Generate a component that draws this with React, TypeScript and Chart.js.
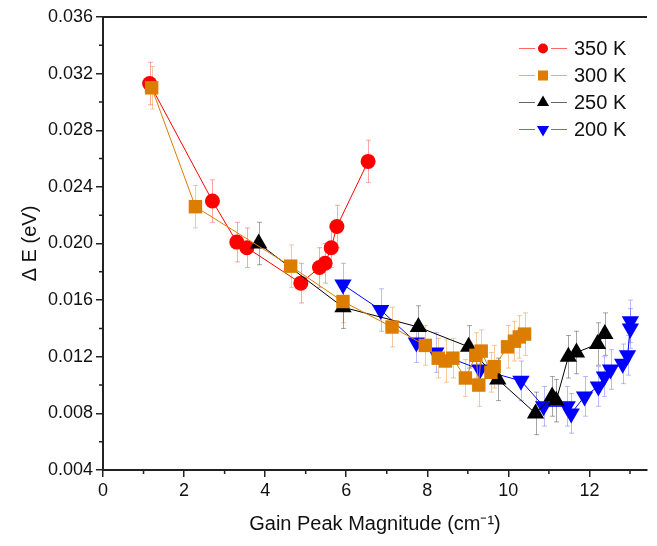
import React, { useEffect, useRef } from 'react';
import { Chart, registerables } from 'chart.js';

Chart.register(...registerables);

// ---- data ----
const xTicks = [0, 2, 4, 6, 8, 10, 12];
const yTicks = [0.004, 0.008, 0.012, 0.016, 0.020, 0.024, 0.028, 0.032, 0.036];

const x350 = [1.15, 2.70, 3.30, 3.55, 4.88, 5.34, 5.48, 5.63, 5.77, 6.54];
const y350 = [0.0313, 0.0230, 0.0201, 0.0197, 0.0172, 0.0183, 0.0186, 0.0197, 0.0212, 0.0258];
const e350 = [0.0015, 0.0015, 0.0014, 0.0014, 0.0014, 0.0014, 0.0014, 0.0014, 0.0015, 0.0015];

const x300 = [1.20, 2.28, 4.63, 5.92, 7.13, 7.95, 8.27, 8.45, 8.63, 8.94, 9.20, 9.27, 9.33, 9.57, 9.65, 9.98, 10.15, 10.27, 10.40];
const y300 = [0.0310, 0.0226, 0.0184, 0.0159, 0.0141, 0.0128, 0.0119, 0.0117, 0.0119, 0.0105, 0.0121, 0.0100, 0.0124, 0.0109, 0.0113, 0.0127, 0.0131, 0.0134, 0.0136];
const e300 = [0.0015, 0.0015, 0.0015, 0.0015, 0.0014, 0.0014, 0.0014, 0.0015, 0.0014, 0.0013, 0.0016, 0.0015, 0.0015, 0.0014, 0.0015, 0.0015, 0.0014, 0.0015, 0.0015];

const x250 = [3.84, 5.92, 7.78, 9.02, 9.74, 10.67, 11.08, 11.18, 11.48, 11.68, 12.20, 12.38];
const y250 = [0.0200, 0.0155, 0.0141, 0.0127, 0.0104, 0.0080, 0.0092, 0.0089, 0.0120, 0.0123, 0.0129, 0.0136];
const e250 = [0.0015, 0.0015, 0.0015, 0.0015, 0.0015, 0.0015, 0.0014, 0.0015, 0.0015, 0.0015, 0.0015, 0.0015];

const x200 = [5.92, 6.85, 7.73, 8.21, 9.30, 10.31, 10.87, 11.45, 11.55, 11.88, 12.22, 12.37, 12.52, 12.82, 12.94, 13.01, 13.01];
const y200 = [0.0171, 0.0153, 0.0130, 0.0123, 0.0111, 0.0103, 0.0085, 0.0085, 0.0080, 0.0092, 0.0099, 0.0106, 0.0111, 0.0115, 0.0121, 0.0140, 0.0145];
const e200 = [0.0015, 0.0015, 0.0014, 0.0014, 0.0014, 0.0014, 0.0014, 0.0014, 0.0014, 0.0014, 0.0014, 0.0014, 0.0014, 0.0014, 0.0014, 0.0014, 0.0015];

const seriesLabels = ['350 K', '300 K', '250 K', '200 K'];

const FONT = "'Liberation Sans', Arial, sans-serif";

type Series = {
  label: string; xs: number[]; ys: number[]; es: number[];
  color: string; errColor: string; style: string; radius: number; rotation: number; order: number;
};

const series: Series[] = [
  { label: seriesLabels[0], xs: x350, ys: y350, es: e350, color: '#FF0000', errColor: 'rgba(255,60,60,0.45)', style: 'circle', radius: 7.5, rotation: 0, order: 3 },
  { label: seriesLabels[1], xs: x300, ys: y300, es: e300, color: '#DC7D00', errColor: 'rgba(230,140,30,0.45)', style: 'rect', radius: 9.5, rotation: 0, order: 0 },
  { label: seriesLabels[2], xs: x250, ys: y250, es: e250, color: '#000000', errColor: 'rgba(0,0,0,0.35)', style: 'triangle', radius: 10, rotation: 0, order: 1 },
  { label: seriesLabels[3], xs: x200, ys: y200, es: e200, color: '#0000FF', errColor: 'rgba(60,60,255,0.35)', style: 'triangle', radius: 10, rotation: 180, order: 2 },
];

const errorBarPlugin = {
  id: 'errorBars',
  beforeDatasetsDraw(chart: any) {
    const ctx = chart.ctx;
    const yScale = chart.scales.y;
    const xScale = chart.scales.x;
    ctx.save();
    series.forEach((s) => {
      ctx.strokeStyle = s.errColor;
      ctx.lineWidth = 1;
      s.xs.forEach((xv, i) => {
        const px = Math.round(xScale.getPixelForValue(xv)) + 0.5;
        const top = yScale.getPixelForValue(s.ys[i] + s.es[i]);
        const bot = yScale.getPixelForValue(s.ys[i] - s.es[i]);
        ctx.beginPath();
        ctx.moveTo(px, top); ctx.lineTo(px, bot);
        ctx.moveTo(px - 2.5, top); ctx.lineTo(px + 2.5, top);
        ctx.moveTo(px - 2.5, bot); ctx.lineTo(px + 2.5, bot);
        ctx.stroke();
      });
    });
    ctx.restore();
  },
};

function drawMarker(ctx: CanvasRenderingContext2D, style: string, rot: number, x: number, y: number, r: number) {
  ctx.beginPath();
  if (style === 'circle') {
    ctx.arc(x, y, r, 0, Math.PI * 2);
  } else if (style === 'rect') {
    ctx.rect(x - r, y - r, 2 * r, 2 * r);
  } else {
    const dir = rot === 180 ? 1 : -1;
    ctx.moveTo(x, y + dir * r);
    ctx.lineTo(x - r * 0.87, y - dir * r * 0.5);
    ctx.lineTo(x + r * 0.87, y - dir * r * 0.5);
    ctx.closePath();
  }
  ctx.fill();
}

const framePlugin = {
  id: 'frameAndLegend',
  afterDraw(chart: any) {
    const ctx = chart.ctx;
    const { left, right, top, bottom } = chart.chartArea;
    const xScale = chart.scales.x;
    const yScale = chart.scales.y;
    ctx.save();
    ctx.strokeStyle = '#222';
    ctx.lineWidth = 2;
    // top frame line
    ctx.beginPath();
    ctx.moveTo(left - 1, top);
    ctx.lineTo(right, top);
    ctx.stroke();
    // minor ticks
    ctx.lineWidth = 1.5;
    ctx.beginPath();
    for (let v = 1; v <= 13; v += 2) {
      const px = xScale.getPixelForValue(v);
      ctx.moveTo(px, bottom);
      ctx.lineTo(px, bottom + 4);
    }
    for (let i = 0; i < yTicks.length - 1; i++) {
      const v = (yTicks[i] + yTicks[i + 1]) / 2;
      const py = yScale.getPixelForValue(v);
      ctx.moveTo(left, py);
      ctx.lineTo(left - 4, py);
    }
    ctx.stroke();

    // legend
    const lx0 = 519, lx1 = 567, lxm = 543, tx = 574;
    const rows = [48, 75, 102, 129];
    ctx.font = `20px ${FONT}`;
    ctx.textBaseline = 'middle';
    series.forEach((s, i) => {
      const yy = rows[i] + 0.5;
      ctx.strokeStyle = s.color;
      ctx.globalAlpha = 0.6;
      ctx.lineWidth = 1;
      ctx.beginPath();
      ctx.moveTo(lx0, yy); ctx.lineTo(lx1, yy);
      ctx.stroke();
      ctx.globalAlpha = 1;
      ctx.fillStyle = '#fff';
      drawMarker(ctx, s.style === 'circle' ? 'circle' : 'rect', 0, lxm, yy, 8);
      ctx.fillStyle = s.color;
      const r = s.style === 'circle' ? 5 : s.style === 'rect' ? 5 : 7;
      drawMarker(ctx, s.style, s.rotation, lxm, yy, r);
      ctx.fillStyle = '#111';
      ctx.fillText(s.label, tx, yy + 1);
    });
    ctx.restore();
  },
};

export default function App() {
  const canvasRef = useRef<HTMLCanvasElement | null>(null);

  useEffect(() => {
    if (!canvasRef.current) return;
    const datasets = series.map((s) => ({
      label: s.label,
      data: s.xs.map((x, i) => ({ x, y: s.ys[i] })),
      showLine: true,
      borderColor: s.color,
      backgroundColor: s.color,
      borderWidth: 1,
      pointStyle: s.style,
      pointRotation: s.rotation,
      pointRadius: s.radius,
      pointBorderWidth: 0,
      pointBackgroundColor: s.color,
      pointBorderColor: s.color,
      order: s.order,
    }));
    const chart = new Chart(canvasRef.current, {
      type: 'scatter',
      data: { datasets },
      options: {
        animation: false,
        responsive: true,
        maintainAspectRatio: false,
        layout: { padding: { top: 17, left: 0, right: 0, bottom: 0 } },
        plugins: { legend: { display: false }, tooltip: { enabled: false } },
        scales: {
          x: {
            type: 'linear',
            min: 0,
            max: 13.42,
            afterBuildTicks: (scale: any) => { scale.ticks = xTicks.map((v) => ({ value: v })); },
            afterFit: (scale: any) => { scale.height = 76; },
            grid: { display: true, drawOnChartArea: false, drawTicks: true, tickLength: 7, color: '#222', lineWidth: 1.5 },
            border: { display: true, color: '#222', width: 2 },
            ticks: { font: { family: FONT, size: 18 }, color: '#111', padding: 3, maxRotation: 0, callback: (v: any) => String(v) },
            title: { display: true, text: 'Gain Peak Magnitude (cm⁻¹)', font: { family: FONT, size: 20 }, color: '#111', padding: { top: 0, bottom: 10 } },
          },
          y: {
            type: 'linear',
            min: 0.004,
            max: 0.036,
            afterBuildTicks: (scale: any) => { scale.ticks = yTicks.map((v) => ({ value: v })); },
            afterFit: (scale: any) => { scale.width = 103; },
            grid: { display: true, drawOnChartArea: false, drawTicks: true, tickLength: 7, color: '#222', lineWidth: 1.5 },
            border: { display: true, color: '#222', width: 2 },
            ticks: { font: { family: FONT, size: 18 }, color: '#111', padding: 3, callback: (v: any) => Number(v).toFixed(3) },
            title: { display: true, text: 'Δ E (eV)', font: { family: FONT, size: 20 }, color: '#111', padding: { top: 18, bottom: 0 } },
          },
        },
      },
      plugins: [errorBarPlugin, framePlugin],
    } as any);
    return () => chart.destroy();
  }, []);

  return (
    <div style={{ position: 'fixed', left: 0, top: 0, width: 657, height: 546, background: '#fff' }}>
      <canvas ref={canvasRef} />
    </div>
  );
}
